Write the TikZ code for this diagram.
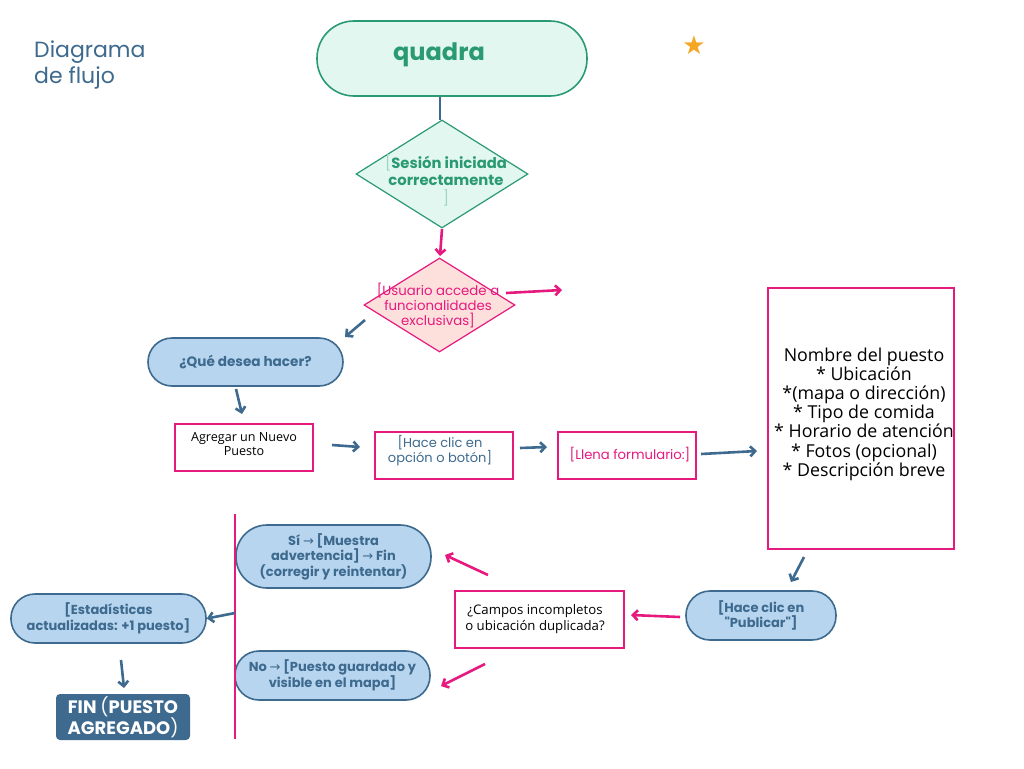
\documentclass[tikz,border=0pt]{standalone}
\usepackage{fontspec}
\setmainfont{Poppins}
\newfontfamily\symf{DejaVu Sans}
\newfontfamily\blk{Open Sans}
\newfontfamily\popq{Poppins}[Ligatures=TeXOff]
\usetikzlibrary{shapes.geometric,arrows.meta}
\definecolor{navy}{HTML}{3D6A8E}
\definecolor{grn}{HTML}{2A9A72}
\definecolor{grnfill}{HTML}{E3F7F1}
\definecolor{lgrn}{HTML}{9FD4C2}
\definecolor{pink}{HTML}{E6197F}
\definecolor{pinkfill}{HTML}{FDE0DB}
\definecolor{lblue}{HTML}{B7D5EE}
\definecolor{star}{HTML}{F5A623}
\tikzset{
  pill/.style={draw=navy, fill=lblue, line width=1.6pt, text=navy, font=\bfseries\fontsize{13}{14}\selectfont, align=center, inner sep=0pt},
  pbox/.style={draw=pink, line width=1.4pt, fill=white, align=center, inner sep=0pt},
  barrow/.style={draw=navy, line width=2.6pt, -{Straight Barb[length=5pt,width=10pt]}},
  parrow/.style={draw=pink, line width=2.6pt, -{Straight Barb[length=5pt,width=10pt]}},
}
\begin{document}
\begin{tikzpicture}[x=1pt,y=-1pt]
\useasboundingbox (0,0) rectangle (1024,768);
\fill[white] (0,0) rectangle (1024,768);
% title
\node[anchor=north west, text=navy, align=left, font=\fontsize{22}{26}\selectfont, inner sep=0pt] (title) at (34,41) {Diagrama\\de flujo};
% star
\node[text=star, font=\symf\fontsize{26}{26}\selectfont, inner sep=0pt] (star) at (694,45) {★};
% quadra
\node[draw=grn, fill=grnfill, line width=1.6pt, rounded corners=37pt, minimum width=270pt, minimum height=75pt, inner sep=0pt] (quadra) at (452,58.5) {};
\node[text=grn, font=\bfseries\fontsize{24}{26}\selectfont, inner sep=0pt] (quadrat) at (439,55) {quadra};
% diamond 1
\node[diamond, draw=grn, fill=grnfill, line width=1.2pt, minimum width=172pt, minimum height=108pt, inner sep=0pt] (d1) at (442,174) {};
\node[align=center, text=grn, font=\bfseries\fontsize{14.8}{17.5}\selectfont, inner sep=0pt] (d1t) at (446,180) {{\color{lgrn}\mdseries[}Sesión iniciada\\correctamente\\{\color{lgrn}\mdseries]}};
% diamond 2
\node[diamond, draw=pink, fill=pinkfill, line width=1.2pt, minimum width=151pt, minimum height=94pt, inner sep=0pt] (d2) at (439.5,305) {};
\node[align=center, text=pink, font=\fontsize{13.3}{15}\selectfont, inner sep=0pt] (d2t) at (438,306) {[Usuario accede a\\funcionalidades\\exclusivas]};
% que desea
\node[pill, rounded corners=24pt, minimum width=195pt, minimum height=48pt, font=\bfseries\fontsize{13.6}{15}\selectfont] (que) at (245.5,362) {¿Qué desea hacer?};
% agregar
\node[pbox, minimum width=138pt, minimum height=47pt] (agr) at (244,447.5) {};
\node[anchor=north, align=center, font=\blk\fontsize{12.6}{14.5}\selectfont, inner sep=0pt] (agrt) at (244,432) {Agregar un Nuevo\\Puesto};
% hace clic opcion
\node[pbox, minimum width=138pt, minimum height=47pt] (clic) at (444,455.5) {};
\node[anchor=north, align=center, text=navy, font=\fontsize{13}{15}\selectfont, inner sep=0pt] (clict) at (440,435) {[Hace clic en\\opción o botón]};
% llena formulario
\node[pbox, minimum width=138pt, minimum height=47pt] (llena) at (627,455.5) {};
\node[text=pink, font=\fontsize{13.2}{15}\selectfont, inner sep=0pt] (llenat) at (630,455) {[Llena formulario:]};
% big box
\node[pbox, minimum width=186pt, minimum height=261pt] (big) at (861,418.5) {};
\node[align=center, font=\blk\fontsize{17.8}{19.2}\selectfont, inner sep=0pt] (bigt) at (864,414) {Nombre del puesto\\* Ubicación\\*(mapa o dirección)\\* Tipo de comida\\* Horario de atención\\* Fotos (opcional)\\* Descripción breve};
% publicar
\node[pill, rounded corners=24pt, minimum width=150pt, minimum height=49pt] (pub) at (761,615.5) {[Hace clic en\\{\popq"}Publicar{\popq"}]};
% campos
\node[pbox, minimum width=169pt, minimum height=57pt] (camp) at (539.5,619.5) {};
\node[align=center, font=\blk\fontsize{13.2}{15.5}\selectfont, inner sep=0pt] (campt) at (535,619) {¿Campos incompletos\\o ubicación duplicada?};
% si
\node[pill, rounded corners=31pt, minimum width=195pt, minimum height=63pt] (si) at (333.5,556.5) {Sí {\symf\mdseries→} [Muestra\\advertencia] {\symf\mdseries→} Fin\\(corregir y reintentar)};
% no
\node[pill, rounded corners=24pt, minimum width=195pt, minimum height=49pt] (no) at (332.5,675.5) {No {\symf\mdseries→} [Puesto guardado y\\visible en el mapa]};
% estadisticas
\node[pill, rounded corners=24pt, minimum width=195pt, minimum height=49pt] (est) at (108.5,618.5) {[Estadísticas\\actualizadas: +1 puesto]};
% fin
\node[fill=navy, rounded corners=4pt, minimum width=134pt, minimum height=46pt, text=white, align=center, font=\bfseries\fontsize{18}{20}\selectfont, inner sep=0pt] (fin) at (123,717) {FIN {\mdseries(}PUESTO\\AGREGADO{\mdseries)}};
% vertical line
\coordinate (vtop) at (235,514);
\coordinate (vbot) at (235,739);
\coordinate (vmid) at (235,613);
\draw[pink, line width=2.4pt] (vtop) -- (vbot);
% connectors
\draw[navy, line width=2.6pt] (quadra.south -| 440,0) -- (440,120);
\coordinate (a1s) at (442,229); \coordinate (a1e) at (440,256);
\draw[parrow] (a1s) -- (a1e);
\coordinate (a2s) at (506,293); \coordinate (a2e) at (562,290);
\draw[parrow] (a2s) -- (a2e);
\coordinate (a3s) at (365,320); \coordinate (a3e) at (345,337);
\draw[barrow] (a3s) -- (a3e);
\coordinate (a4s) at (236,389); \coordinate (a4e) at (242,414);
\draw[barrow] (a4s) -- (a4e);
\coordinate (a5s) at (332,445); \coordinate (a5e) at (360,447);
\draw[barrow] (a5s) -- (a5e);
\coordinate (a6s) at (520,448); \coordinate (a6e) at (547,447);
\draw[barrow] (a6s) -- (a6e);
\coordinate (a7s) at (701,454); \coordinate (a7e) at (757,451);
\draw[barrow] (a7s) -- (a7e);
\coordinate (a8s) at (804,557); \coordinate (a8e) at (791,582);
\draw[barrow] (a8s) -- (a8e);
\coordinate (a9s) at (680,617); \coordinate (a9e) at (631,615);
\draw[parrow] (a9s) -- (a9e);
\coordinate (a10s) at (488,575); \coordinate (a10e) at (445,555);
\draw[parrow] (a10s) -- (a10e);
\coordinate (a11s) at (485,664); \coordinate (a11e) at (441,686);
\draw[parrow] (a11s) -- (a11e);
\draw[barrow] (vmid) -- (est.east);
\coordinate (a12s) at (121,660); \coordinate (a12e) at (124,688);
\draw[barrow] (a12s) -- (a12e);
\end{tikzpicture}
\end{document}
